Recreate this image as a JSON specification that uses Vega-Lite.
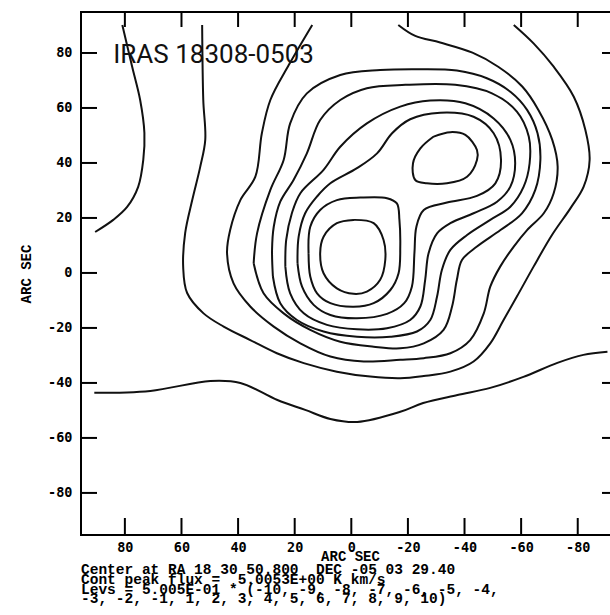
{
  "$schema": "https://vega.github.io/schema/vega-lite/v6.json",
  "width": 529,
  "height": 523,
  "autosize": {"type": "none"},
  "padding": {"left": 81, "top": 12, "right": 0, "bottom": 80},
  "background": "white",
  "config": {"view": {"stroke": null, "fill": null}},
  "title": {
    "text": ["Center at RA 18 30 50.800\u00a0 DEC -05 03 29.40", "Cont peak flux =\u00a0 5.0053E+00 K km/s", "Levs = 5.005E-01 * (-10, -9, -8, -7, -6, -5, -4,", "-3, -2, -1, 1, 2, 3, 4, 5, 6, 7, 8, 9, 10)"],
    "orient": "bottom", "anchor": "start", "frame": "group",
    "font": "Liberation Mono", "fontWeight": "bold", "fontSize": 14.5, "lineHeight": 9.8,
    "color": "black", "offset": 0
  },
  "datasets": {
    "contours": [
      {"c":"A","i":0,"x":90.8,"y":-43.6},{"c":"A","i":1,"x":71.0,"y":-42.9},{"c":"A","i":2,"x":49.8,"y":-39.3},{"c":"A","i":3,"x":39.2,"y":-40.0},{"c":"A","i":4,"x":26.1,"y":-46.2},{"c":"A","i":5,"x":16.3,"y":-49.8},{"c":"A","i":6,"x":7.4,"y":-53.1},{"c":"A","i":7,"x":-2.1,"y":-54.2},{"c":"A","i":8,"x":-17.3,"y":-50.5},{"c":"A","i":9,"x":-25.4,"y":-47.3},{"c":"A","i":10,"x":-37.5,"y":-44.4},{"c":"A","i":11,"x":-49.1,"y":-41.8},{"c":"A","i":12,"x":-60.8,"y":-37.8},{"c":"A","i":13,"x":-72.8,"y":-32.7},{"c":"A","i":14,"x":-82.0,"y":-29.8},{"c":"A","i":15,"x":-90.5,"y":-28.7},
      {"c":"L","i":0,"x":80.9,"y":90.2},{"c":"L","i":1,"x":77.4,"y":74.9},{"c":"L","i":2,"x":74.6,"y":62.9},{"c":"L","i":3,"x":73.1,"y":50.9},{"c":"L","i":4,"x":73.5,"y":41.1},{"c":"L","i":5,"x":75.3,"y":31.3},{"c":"L","i":6,"x":79.2,"y":24.0},{"c":"L","i":7,"x":84.1,"y":19.3},{"c":"L","i":8,"x":90.5,"y":14.9},
      {"c":"C2","i":0,"x":52.7,"y":90.2},{"c":"C2","i":1,"x":52.3,"y":62.9},{"c":"C2","i":2,"x":51.6,"y":48.4},{"c":"C2","i":3,"x":53.4,"y":38.5},{"c":"C2","i":4,"x":56.2,"y":26.5},{"c":"C2","i":5,"x":58.7,"y":14.5},{"c":"C2","i":6,"x":59.4,"y":2.2},{"c":"C2","i":7,"x":58.0,"y":-7.3},{"c":"C2","i":8,"x":52.2,"y":-14.7},{"c":"C2","i":9,"x":45.1,"y":-19.5},{"c":"C2","i":10,"x":35.7,"y":-24.4},{"c":"C2","i":11,"x":26.3,"y":-29.2},{"c":"C2","i":12,"x":16.8,"y":-32.8},{"c":"C2","i":13,"x":5.1,"y":-35.9},{"c":"C2","i":14,"x":-6.7,"y":-37.7},{"c":"C2","i":15,"x":-17.3,"y":-38.3},{"c":"C2","i":16,"x":-25.6,"y":-37.5},{"c":"C2","i":17,"x":-35.0,"y":-35.9},{"c":"C2","i":18,"x":-43.2,"y":-32.2},{"c":"C2","i":19,"x":-49.1,"y":-25.6},{"c":"C2","i":20,"x":-53.8,"y":-17.1},{"c":"C2","i":21,"x":-58.5,"y":-8.6},{"c":"C2","i":22,"x":-64.4,"y":2.3},{"c":"C2","i":23,"x":-70.9,"y":13.8},{"c":"C2","i":24,"x":-77.4,"y":23.5},{"c":"C2","i":25,"x":-82.1,"y":31.4},{"c":"C2","i":26,"x":-84.2,"y":41.1},{"c":"C2","i":27,"x":-82.7,"y":52.0},{"c":"C2","i":28,"x":-78.6,"y":64.1},{"c":"C2","i":29,"x":-71.5,"y":75.0},{"c":"C2","i":30,"x":-64.4,"y":83.5},{"c":"C2","i":31,"x":-57.4,"y":90.2},
      {"c":"C3","i":0,"x":13.8,"y":90.2},{"c":"C3","i":1,"x":22.1,"y":75.6},{"c":"C3","i":2,"x":28.6,"y":62.9},{"c":"C3","i":3,"x":31.6,"y":50.8},{"c":"C3","i":4,"x":33.9,"y":35.0},{"c":"C3","i":5,"x":39.2,"y":26.5},{"c":"C3","i":6,"x":42.8,"y":15.6},{"c":"C3","i":7,"x":43.9,"y":7.2},{"c":"C3","i":8,"x":41.6,"y":-3.8},{"c":"C3","i":9,"x":35.7,"y":-12.2},{"c":"C3","i":10,"x":27.4,"y":-19.5},{"c":"C3","i":11,"x":18.0,"y":-25.6},{"c":"C3","i":12,"x":7.4,"y":-30.4},{"c":"C3","i":13,"x":-4.4,"y":-32.2},{"c":"C3","i":14,"x":-17.3,"y":-31.6},{"c":"C3","i":15,"x":-25.6,"y":-31.0},{"c":"C3","i":16,"x":-35.0,"y":-29.2},{"c":"C3","i":17,"x":-42.0,"y":-24.4},{"c":"C3","i":18,"x":-46.8,"y":-14.7},{"c":"C3","i":19,"x":-49.1,"y":-5.0},{"c":"C3","i":20,"x":-52.6,"y":2.3},{"c":"C3","i":21,"x":-57.4,"y":9.6},{"c":"C3","i":22,"x":-62.1,"y":15.6},{"c":"C3","i":23,"x":-68.0,"y":21.7},{"c":"C3","i":24,"x":-71.5,"y":29.0},{"c":"C3","i":25,"x":-72.9,"y":38.7},{"c":"C3","i":26,"x":-71.0,"y":48.4},{"c":"C3","i":27,"x":-66.1,"y":59.3},{"c":"C3","i":28,"x":-60.4,"y":67.8},{"c":"C3","i":29,"x":-51.9,"y":75.0},{"c":"C3","i":30,"x":-42.8,"y":80.1},{"c":"C3","i":31,"x":-31.4,"y":83.8},{"c":"C3","i":32,"x":-22.6,"y":86.2},{"c":"C3","i":33,"x":-16.6,"y":90.2},
      {"c":"C4","i":0,"x":34.5,"y":3.5},{"c":"C4","i":1,"x":33.3,"y":14.4},{"c":"C4","i":2,"x":28.6,"y":30.2},{"c":"C4","i":3,"x":23.9,"y":41.1},{"c":"C4","i":4,"x":21.6,"y":54.4},{"c":"C4","i":5,"x":15.7,"y":65.3},{"c":"C4","i":6,"x":3.9,"y":72.0},{"c":"C4","i":7,"x":-10.2,"y":73.8},{"c":"C4","i":8,"x":-24.4,"y":74.1},{"c":"C4","i":9,"x":-37.3,"y":73.6},{"c":"C4","i":10,"x":-47.9,"y":70.8},{"c":"C4","i":11,"x":-56.2,"y":65.9},{"c":"C4","i":12,"x":-62.1,"y":59.3},{"c":"C4","i":13,"x":-65.8,"y":50.8},{"c":"C4","i":14,"x":-66.8,"y":41.1},{"c":"C4","i":15,"x":-65.0,"y":30.2},{"c":"C4","i":16,"x":-60.3,"y":21.7},{"c":"C4","i":17,"x":-52.7,"y":15.6},{"c":"C4","i":18,"x":-44.4,"y":9.6},{"c":"C4","i":19,"x":-39.1,"y":4.7},{"c":"C4","i":20,"x":-37.3,"y":-2.5},{"c":"C4","i":21,"x":-35.6,"y":-12.2},{"c":"C4","i":22,"x":-32.6,"y":-20.7},{"c":"C4","i":23,"x":-25.6,"y":-25.6},{"c":"C4","i":24,"x":-17.3,"y":-27.4},{"c":"C4","i":25,"x":-7.9,"y":-26.8},{"c":"C4","i":26,"x":3.9,"y":-25.0},{"c":"C4","i":27,"x":14.5,"y":-20.7},{"c":"C4","i":28,"x":23.9,"y":-14.7},{"c":"C4","i":29,"x":31.0,"y":-7.4},{"c":"C4","i":30,"x":34.5,"y":3.5},
      {"c":"C5","i":0,"x":27.7,"y":-1.3},{"c":"C5","i":1,"x":28.0,"y":8.4},{"c":"C5","i":2,"x":27.4,"y":16.8},{"c":"C5","i":3,"x":25.1,"y":25.9},{"c":"C5","i":4,"x":20.4,"y":33.8},{"c":"C5","i":5,"x":15.7,"y":43.5},{"c":"C5","i":6,"x":11.0,"y":55.6},{"c":"C5","i":7,"x":3.9,"y":62.9},{"c":"C5","i":8,"x":-5.5,"y":67.2},{"c":"C5","i":9,"x":-19.1,"y":68.4},{"c":"C5","i":10,"x":-36.7,"y":68.4},{"c":"C5","i":11,"x":-49.7,"y":65.3},{"c":"C5","i":12,"x":-58.5,"y":58.7},{"c":"C5","i":13,"x":-62.7,"y":49.6},{"c":"C5","i":14,"x":-63.0,"y":39.9},{"c":"C5","i":15,"x":-60.9,"y":31.4},{"c":"C5","i":16,"x":-56.2,"y":24.1},{"c":"C5","i":17,"x":-49.1,"y":19.3},{"c":"C5","i":18,"x":-40.9,"y":13.8},{"c":"C5","i":19,"x":-35.0,"y":8.4},{"c":"C5","i":20,"x":-32.0,"y":1.1},{"c":"C5","i":21,"x":-30.3,"y":-8.6},{"c":"C5","i":22,"x":-27.9,"y":-17.1},{"c":"C5","i":23,"x":-23.2,"y":-21.3},{"c":"C5","i":24,"x":-13.8,"y":-23.2},{"c":"C5","i":25,"x":-2.0,"y":-23.2},{"c":"C5","i":26,"x":9.8,"y":-21.3},{"c":"C5","i":27,"x":19.2,"y":-17.1},{"c":"C5","i":28,"x":25.1,"y":-11.0},{"c":"C5","i":29,"x":27.7,"y":-1.3},
      {"c":"C6","i":0,"x":23.3,"y":2.3},{"c":"C6","i":1,"x":23.0,"y":12.0},{"c":"C6","i":2,"x":21.0,"y":21.7},{"c":"C6","i":3,"x":18.0,"y":29.0},{"c":"C6","i":4,"x":9.8,"y":37.5},{"c":"C6","i":5,"x":3.9,"y":45.9},{"c":"C6","i":6,"x":-5.5,"y":54.4},{"c":"C6","i":7,"x":-17.3,"y":60.5},{"c":"C6","i":8,"x":-27.9,"y":62.7},{"c":"C6","i":9,"x":-40.3,"y":61.7},{"c":"C6","i":10,"x":-50.3,"y":56.2},{"c":"C6","i":11,"x":-56.2,"y":48.4},{"c":"C6","i":12,"x":-57.9,"y":39.9},{"c":"C6","i":13,"x":-56.2,"y":31.4},{"c":"C6","i":14,"x":-51.5,"y":25.9},{"c":"C6","i":15,"x":-43.2,"y":21.7},{"c":"C6","i":16,"x":-35.0,"y":18.1},{"c":"C6","i":17,"x":-30.3,"y":14.4},{"c":"C6","i":18,"x":-27.3,"y":7.2},{"c":"C6","i":19,"x":-26.1,"y":-2.5},{"c":"C6","i":20,"x":-24.4,"y":-12.2},{"c":"C6","i":21,"x":-20.8,"y":-17.1},{"c":"C6","i":22,"x":-12.6,"y":-20.1},{"c":"C6","i":23,"x":-2.0,"y":-20.5},{"c":"C6","i":24,"x":8.6,"y":-18.9},{"c":"C6","i":25,"x":16.8,"y":-14.7},{"c":"C6","i":26,"x":21.6,"y":-7.4},{"c":"C6","i":27,"x":23.3,"y":2.3},
      {"c":"C7","i":0,"x":19.0,"y":3.5},{"c":"C7","i":1,"x":18.6,"y":13.2},{"c":"C7","i":2,"x":16.3,"y":21.7},{"c":"C7","i":3,"x":12.1,"y":27.8},{"c":"C7","i":4,"x":7.4,"y":32.6},{"c":"C7","i":5,"x":-2.0,"y":38.1},{"c":"C7","i":6,"x":-9.1,"y":43.5},{"c":"C7","i":7,"x":-14.4,"y":50.8},{"c":"C7","i":8,"x":-20.8,"y":55.9},{"c":"C7","i":9,"x":-31.4,"y":58.3},{"c":"C7","i":10,"x":-43.2,"y":56.8},{"c":"C7","i":11,"x":-50.3,"y":50.8},{"c":"C7","i":12,"x":-52.9,"y":41.1},{"c":"C7","i":13,"x":-50.9,"y":32.6},{"c":"C7","i":14,"x":-44.4,"y":28.0},{"c":"C7","i":15,"x":-33.8,"y":25.6},{"c":"C7","i":16,"x":-25.6,"y":22.9},{"c":"C7","i":17,"x":-23.0,"y":16.8},{"c":"C7","i":18,"x":-22.3,"y":7.2},{"c":"C7","i":19,"x":-21.4,"y":-5.0},{"c":"C7","i":20,"x":-18.7,"y":-11.0},{"c":"C7","i":21,"x":-12.6,"y":-14.9},{"c":"C7","i":22,"x":-2.0,"y":-16.5},{"c":"C7","i":23,"x":7.4,"y":-15.3},{"c":"C7","i":24,"x":13.3,"y":-11.6},{"c":"C7","i":25,"x":17.4,"y":-5.0},{"c":"C7","i":26,"x":19.0,"y":3.5},
      {"c":"C8","i":0,"x":15.1,"y":7.2},{"c":"C8","i":1,"x":14.5,"y":16.8},{"c":"C8","i":2,"x":11.0,"y":22.9},{"c":"C8","i":3,"x":5.1,"y":26.5},{"c":"C8","i":4,"x":-3.2,"y":27.4},{"c":"C8","i":5,"x":-12.6,"y":27.2},{"c":"C8","i":6,"x":-16.1,"y":25.3},{"c":"C8","i":7,"x":-17.0,"y":19.3},{"c":"C8","i":8,"x":-17.3,"y":9.6},{"c":"C8","i":9,"x":-16.7,"y":-0.1},{"c":"C8","i":10,"x":-13.8,"y":-6.2},{"c":"C8","i":11,"x":-7.9,"y":-11.0},{"c":"C8","i":12,"x":-0.8,"y":-12.3},{"c":"C8","i":13,"x":7.4,"y":-11.0},{"c":"C8","i":14,"x":12.1,"y":-7.4},{"c":"C8","i":15,"x":14.5,"y":-1.3},{"c":"C8","i":16,"x":15.1,"y":7.2},
      {"c":"C9","i":0,"x":-0.8,"y":19.3},{"c":"C9","i":1,"x":-7.9,"y":18.1},{"c":"C9","i":2,"x":-11.4,"y":12.0},{"c":"C9","i":3,"x":-12.0,"y":4.7},{"c":"C9","i":4,"x":-10.2,"y":-2.5},{"c":"C9","i":5,"x":-5.5,"y":-6.8},{"c":"C9","i":6,"x":-0.8,"y":-7.6},{"c":"C9","i":7,"x":5.1,"y":-5.6},{"c":"C9","i":8,"x":9.8,"y":-0.1},{"c":"C9","i":9,"x":11.0,"y":7.2},{"c":"C9","i":10,"x":9.8,"y":13.2},{"c":"C9","i":11,"x":5.1,"y":18.1},{"c":"C9","i":12,"x":-0.8,"y":19.3},
      {"c":"T8","i":0,"x":-29.1,"y":49.6},{"c":"T8","i":1,"x":-35.0,"y":51.2},{"c":"T8","i":2,"x":-40.3,"y":50.2},{"c":"T8","i":3,"x":-44.4,"y":44.7},{"c":"T8","i":4,"x":-44.4,"y":41.1},{"c":"T8","i":5,"x":-40.9,"y":35.0},{"c":"T8","i":6,"x":-33.8,"y":32.6},{"c":"T8","i":7,"x":-26.7,"y":32.6},{"c":"T8","i":8,"x":-22.6,"y":33.8},{"c":"T8","i":9,"x":-21.8,"y":39.9},{"c":"T8","i":10,"x":-24.4,"y":45.3},{"c":"T8","i":11,"x":-29.1,"y":49.6}
    ]
  },
  "resolve": {"axis": {"x": "independent", "y": "independent"}},
  "layer": [
    {
      "data": {"name": "contours"},
      "mark": {"type": "line", "interpolate": "catmull-rom", "stroke": "#111111", "strokeWidth": 2, "clip": true},
      "encoding": {
        "x": {
          "field": "x", "type": "quantitative",
          "scale": {"domain": [95.5, -91.4], "nice": false, "zero": false},
          "axis": {
            "orient": "bottom", "values": [80, 60, 40, 20, 0, -20, -40, -60, -80],
            "grid": false, "domain": false, "ticks": false,
            "labelFont": "DejaVu Sans Mono", "labelFontWeight": "bold", "labelFontSize": 13.5, "labelColor": "black",
            "labelPadding": 5, "labelExpr": "'' + datum.value", "labelFlush": false, "labelOverlap": false,
            "title": "ARC SEC", "titleFont": "Liberation Mono", "titleFontWeight": "bold", "titleFontSize": 14, "titleColor": "black",
            "titleX": 269, "titleY": 25, "titleBaseline": "alphabetic", "titleAlign": "center"
          }
        },
        "y": {
          "field": "y", "type": "quantitative",
          "scale": {"domain": [-95.3, 94.9], "nice": false, "zero": false},
          "axis": {
            "orient": "left", "values": [80, 60, 40, 20, 0, -20, -40, -60, -80],
            "grid": false, "domain": false, "ticks": false,
            "labelFont": "DejaVu Sans Mono", "labelFontWeight": "bold", "labelFontSize": 13.5, "labelColor": "black",
            "labelPadding": 9, "labelExpr": "'' + datum.value", "labelFlush": false, "labelOverlap": false,
            "title": "ARC SEC", "titleFont": "Liberation Mono", "titleFontWeight": "bold", "titleFontSize": 14, "titleColor": "black",
            "titleX": -51, "titleY": 261.5, "titleAngle": 270, "titleBaseline": "alphabetic", "titleAlign": "center"
          }
        },
        "detail": {"field": "c", "type": "nominal"},
        "order": {"field": "i", "type": "quantitative"}
      }
    },
    {
      "data": {"values": [{"label": "IRAS 18308-0503"}]},
      "mark": {"type": "text", "font": "Roboto", "fontSize": 26, "align": "left", "baseline": "alphabetic", "color": "#111111"},
      "encoding": {
        "x": {"datum": 84.1, "type": "quantitative", "axis": null},
        "y": {"datum": 76.4, "type": "quantitative", "axis": null},
        "text": {"field": "label", "type": "nominal"}
      }
    },
    {
      "data": {"values": [{"tx": 80}, {"tx": 60}, {"tx": 40}, {"tx": 20}, {"tx": 0}, {"tx": -20}, {"tx": -40}, {"tx": -60}, {"tx": -80}]},
      "mark": {"type": "tick", "orient": "vertical", "color": "black", "opacity": 1, "size": 15, "thickness": 2, "yOffset": 7.5},
      "encoding": {
        "x": {"field": "tx", "type": "quantitative", "axis": null},
        "y": {"datum": 94.9, "type": "quantitative", "axis": null}
      }
    },
    {
      "data": {"values": [{"bx": 80}, {"bx": 60}, {"bx": 40}, {"bx": 20}, {"bx": 0}, {"bx": -20}, {"bx": -40}, {"bx": -60}, {"bx": -80}]},
      "mark": {"type": "tick", "orient": "vertical", "color": "black", "opacity": 1, "size": 17, "thickness": 2, "yOffset": -8.5},
      "encoding": {
        "x": {"field": "bx", "type": "quantitative", "axis": null},
        "y": {"datum": -95.3, "type": "quantitative", "axis": null}
      }
    },
    {
      "data": {"values": [{"ly": 80}, {"ly": 60}, {"ly": 40}, {"ly": 20}, {"ly": 0}, {"ly": -20}, {"ly": -40}, {"ly": -60}, {"ly": -80}]},
      "mark": {"type": "tick", "orient": "horizontal", "color": "black", "opacity": 1, "size": 16, "thickness": 2, "xOffset": 8},
      "encoding": {
        "y": {"field": "ly", "type": "quantitative", "axis": null},
        "x": {"datum": 95.5, "type": "quantitative", "axis": null}
      }
    },
    {
      "data": {"values": [{"ry": 80}, {"ry": 60}, {"ry": 40}, {"ry": 20}, {"ry": 0}, {"ry": -20}, {"ry": -40}, {"ry": -60}, {"ry": -80}]},
      "mark": {"type": "tick", "orient": "horizontal", "color": "black", "opacity": 1, "size": 16, "thickness": 2},
      "encoding": {
        "y": {"field": "ry", "type": "quantitative", "axis": null},
        "x": {"datum": -91.4, "type": "quantitative", "axis": null}
      }
    },
    {
      "data": {"values": [{}]},
      "mark": {"type": "rule", "color": "black", "strokeWidth": 2, "strokeCap": "square"},
      "encoding": {
        "x": {"datum": 95.5, "type": "quantitative", "axis": null},
        "y": {"datum": -95.3, "type": "quantitative", "axis": null},
        "y2": {"datum": 94.9}
      }
    },
    {
      "data": {"values": [{}]},
      "mark": {"type": "rule", "color": "black", "strokeWidth": 2, "strokeCap": "square"},
      "encoding": {
        "x": {"datum": 95.5, "type": "quantitative", "axis": null},
        "x2": {"datum": -91.4},
        "y": {"datum": 94.9, "type": "quantitative", "axis": null}
      }
    },
    {
      "data": {"values": [{}]},
      "mark": {"type": "rule", "color": "black", "strokeWidth": 2, "strokeCap": "square"},
      "encoding": {
        "x": {"datum": 95.5, "type": "quantitative", "axis": null},
        "x2": {"datum": -91.4},
        "y": {"datum": -95.3, "type": "quantitative", "axis": null}
      }
    }
  ]
}
